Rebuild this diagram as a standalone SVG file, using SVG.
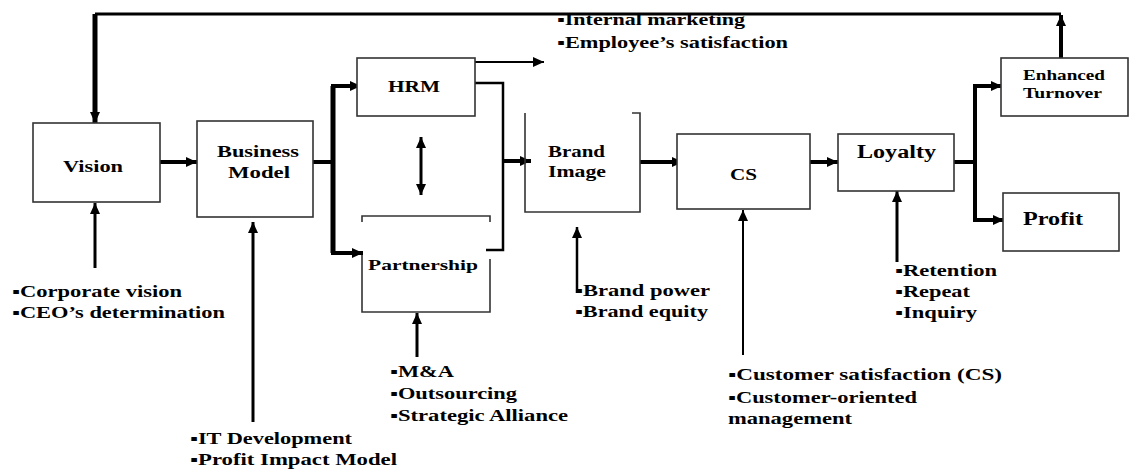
<svg xmlns="http://www.w3.org/2000/svg" width="1129" height="469" viewBox="0 0 1129 469">
<style>
.box{fill:#fff;stroke:#333;stroke-width:1.6}
.ln{fill:none;stroke:#000;stroke-linejoin:miter;stroke-linecap:butt}
.t{font-family:"Liberation Serif","Times New Roman","DejaVu Serif",serif;font-weight:bold;fill:#000}
.b{font-size:16px}
.lbl{font-size:16px}
</style>
<defs>
<marker id="ah" markerUnits="userSpaceOnUse" markerWidth="11" markerHeight="10" refX="11" refY="5" orient="auto-start-reverse">
<path d="M0,0 L11,5 L0,10 z" fill="#000"/>
</marker>
</defs>
<rect width="1129" height="469" fill="#fff"/>

<g id="connectors">
<path class="ln" stroke-width="3" d="M1061,14 H95"/>
<path class="ln" stroke-width="5" d="M95,14 V123" marker-end="url(#ah)"/>
<path class="ln" stroke-width="4" d="M1061,58 V15" marker-end="url(#ah)"/>
<path class="ln" stroke-width="4" d="M155,162 H197" marker-end="url(#ah)"/>
<path class="ln" stroke-width="4" d="M313,162 H333"/>
<path class="ln" stroke-width="5" d="M333,86 V253"/>
<path class="ln" stroke-width="4" d="M331,86 H361" marker-end="url(#ah)"/>
<path class="ln" stroke-width="4" d="M331,253 H363" marker-end="url(#ah)"/>
<path class="ln" stroke-width="2" d="M472,62 H544" marker-end="url(#ah)"/>
<path class="ln" stroke-width="2.5" d="M470,83 H503 V250 H486"/>
<path class="ln" stroke-width="4" d="M503,161 H531" marker-end="url(#ah)"/>
<path class="ln" stroke-width="3" d="M421,137 V195" marker-start="url(#ah)" marker-end="url(#ah)"/>
<path class="ln" stroke-width="4" d="M640,162 H683" marker-end="url(#ah)"/>
<path class="ln" stroke-width="4" d="M793,162 H838" marker-end="url(#ah)"/>
<path class="ln" stroke-width="4" d="M954,162 H975"/>
<path class="ln" stroke-width="4" d="M975,86 V220"/>
<path class="ln" stroke-width="4" d="M973,86 H1002" marker-end="url(#ah)"/>
<path class="ln" stroke-width="4" d="M973,220 H1004" marker-end="url(#ah)"/>
<path class="ln" stroke-width="3" d="M95,268 V203" marker-end="url(#ah)"/>
<path class="ln" stroke-width="3" d="M253,422 V222" marker-end="url(#ah)"/>
<path class="ln" stroke-width="3" d="M417,357 V313" marker-end="url(#ah)"/>
<path class="ln" stroke-width="2.5" d="M577,293 V227" marker-end="url(#ah)"/>
<path class="ln" stroke-width="2" d="M743,355 V210" marker-end="url(#ah)"/>
<path class="ln" stroke-width="3" d="M897,262 V191" marker-end="url(#ah)"/>
</g>

<g id="vision">
<rect class="box" x="33" y="123" width="127" height="79"/>
<text class="t lbl" x="63" y="172" textLength="60" lengthAdjust="spacingAndGlyphs">Vision</text>
</g>
<g id="business-model">
<rect class="box" x="197" y="121" width="116" height="96"/>
<text class="t lbl" x="217" y="157" textLength="82" lengthAdjust="spacingAndGlyphs">Business</text>
<text class="t lbl" x="228" y="178" textLength="62" lengthAdjust="spacingAndGlyphs">Model</text>
</g>
<g id="hrm">
<rect class="box" x="357" y="58" width="118" height="58"/>
<text class="t lbl" x="388" y="92" textLength="52" lengthAdjust="spacingAndGlyphs">HRM</text>
</g>
<g id="partnership">
<path class="box" style="fill:none" d="M362,222 V216 H490 V222"/>
<path class="box" style="fill:none" d="M362,255 V312 H490 V259"/>
<text class="t" style="font-size:15px" x="368" y="270" textLength="110" lengthAdjust="spacingAndGlyphs">Partnership</text>
</g>
<g id="brand-image">
<path class="box" style="fill:none" d="M525,113 V212 H640 V113 H632"/>
<text class="t lbl" x="548" y="157" textLength="57" lengthAdjust="spacingAndGlyphs">Brand</text>
<text class="t lbl" x="548" y="177" textLength="58" lengthAdjust="spacingAndGlyphs">Image</text>
</g>
<g id="cs">
<rect class="box" x="677" y="134" width="133" height="75"/>
<text class="t lbl" x="730" y="180" textLength="27" lengthAdjust="spacingAndGlyphs">CS</text>
</g>
<g id="loyalty">
<rect class="box" x="838" y="134" width="116" height="57"/>
<text class="t" style="font-size:18px" x="857" y="158" textLength="79" lengthAdjust="spacingAndGlyphs">Loyalty</text>
</g>
<g id="enhanced-turnover">
<rect class="box" x="1001" y="58" width="127" height="58"/>
<text class="t" style="font-size:14px" x="1023" y="80" textLength="82" lengthAdjust="spacingAndGlyphs">Enhanced</text>
<text class="t" style="font-size:14px" x="1023" y="98" textLength="79" lengthAdjust="spacingAndGlyphs">Turnover</text>
</g>
<g id="profit">
<rect class="box" x="1003" y="193" width="116" height="58"/>
<text class="t" style="font-size:19px" x="1023" y="225" textLength="60" lengthAdjust="spacingAndGlyphs">Profit</text>
</g>

<g id="notes">
<text class="t b" x="557" y="25" textLength="188" lengthAdjust="spacingAndGlyphs">▪Internal marketing</text>
<text class="t b" x="557" y="48" textLength="231" lengthAdjust="spacingAndGlyphs">▪Employee’s satisfaction</text>
<text class="t b" x="12" y="297" textLength="170" lengthAdjust="spacingAndGlyphs">▪Corporate vision</text>
<text class="t b" x="12" y="318" textLength="213" lengthAdjust="spacingAndGlyphs">▪CEO’s determination</text>
<text class="t b" x="190" y="444" textLength="162" lengthAdjust="spacingAndGlyphs">▪IT Development</text>
<text class="t b" x="190" y="465" textLength="207" lengthAdjust="spacingAndGlyphs">▪Profit Impact Model</text>
<text class="t b" x="390" y="377" textLength="64" lengthAdjust="spacingAndGlyphs">▪M&amp;A</text>
<text class="t b" x="390" y="399" textLength="127" lengthAdjust="spacingAndGlyphs">▪Outsourcing</text>
<text class="t b" x="390" y="421" textLength="178" lengthAdjust="spacingAndGlyphs">▪Strategic Alliance</text>
<text class="t b" x="575" y="296" textLength="135" lengthAdjust="spacingAndGlyphs">▪Brand power</text>
<text class="t b" x="575" y="317" textLength="133" lengthAdjust="spacingAndGlyphs">▪Brand equity</text>
<text class="t b" x="728" y="380" textLength="274" lengthAdjust="spacingAndGlyphs">▪Customer satisfaction (CS)</text>
<text class="t b" x="728" y="403" textLength="189" lengthAdjust="spacingAndGlyphs">▪Customer-oriented</text>
<text class="t b" x="728" y="424" textLength="124" lengthAdjust="spacingAndGlyphs">management</text>
<text class="t b" x="895" y="276" textLength="102" lengthAdjust="spacingAndGlyphs">▪Retention</text>
<text class="t b" x="895" y="297" textLength="75" lengthAdjust="spacingAndGlyphs">▪Repeat</text>
<text class="t b" x="895" y="318" textLength="82" lengthAdjust="spacingAndGlyphs">▪Inquiry</text>
</g>
</svg>
